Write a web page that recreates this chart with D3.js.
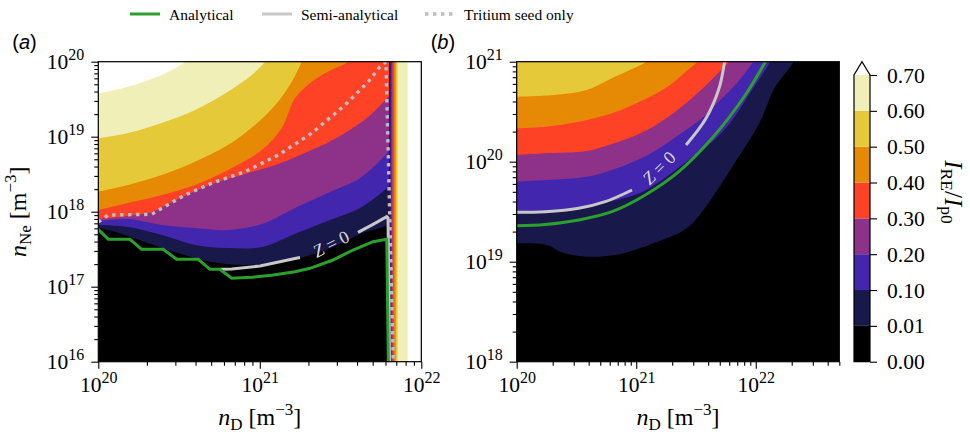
<!DOCTYPE html>
<html><head><meta charset="utf-8">
<script src="https://cdn.jsdelivr.net/npm/d3@7"></script>
<style>
body{margin:0;background:#fff;}
svg{display:block;}
.sf{font-family:"Liberation Serif","DejaVu Serif",serif;}
</style></head><body>
<svg id="chart" width="970" height="434"></svg>
<script>
// ================= DATA =================
const levels = [0.00, 0.01, 0.10, 0.20, 0.30, 0.40, 0.50, 0.60, 0.70];
const levelLabels = ["0.00","0.01","0.10","0.20","0.30","0.40","0.50","0.60","0.70"];
const seriesNames = ["Analytical", "Semi-analytical", "Tritium seed only"];

// Panel (a): boundaries [log10 nD, log10 nNe]; region above each curve has I_RE/I_p0 >= level
const a_b001 = [[20,17.783],[20.085,17.743],[20.289,17.596],[20.493,17.449],[20.704,17.329],[20.908,17.289],[21.113,17.329],[21.249,17.383],[21.453,17.529],[21.639,17.716],[21.763,17.796],[21.800,17.836]];
const a_b010 = [[20,17.823],[20.184,17.796],[20.395,17.689],[20.599,17.556],[20.803,17.516],[21.014,17.529],[21.230,17.716],[21.435,17.889],[21.621,18.049],[21.788,18.316],[21.800,18.343]];
const a_b020 = [[20,17.876],[20.184,17.903],[20.395,17.823],[20.599,17.783],[20.803,17.756],[21.014,17.836],[21.230,18.063],[21.435,18.263],[21.621,18.449],[21.788,18.783],[21.800,18.823]];
const a_b030 = [[20,17.903],[20.184,17.943],[20.331,17.996],[20.496,18.169],[20.702,18.369],[20.908,18.503],[21.114,18.636],[21.248,18.756],[21.453,18.956],[21.663,19.249],[21.800,19.543]];
const a_b040 = [[20,18.023],[20.184,18.116],[20.393,18.223],[20.599,18.356],[20.803,18.556],[21.012,18.823],[21.136,19.116],[21.218,19.512],[21.321,19.733],[21.422,19.867],[21.546,19.996],[21.571,20.05]];
const a_b050 = [[20,18.267],[20.184,18.356],[20.393,18.489],[20.599,18.667],[20.803,18.889],[20.970,19.156],[21.113,19.467],[21.198,19.733],[21.259,19.996],[21.268,20.05]];
const a_b060 = [[20,18.979],[20.184,19.049],[20.393,19.183],[20.599,19.356],[20.803,19.6],[20.950,19.823],[21.032,19.996],[21.051,20.05]];
const a_b070 = [[20,19.579],[20.184,19.667],[20.393,19.823],[20.537,19.992],[20.568,20.05]];
const a_stripStart = [21.800, 21.808, 21.815, 21.822, 21.832, 21.842, 21.853, 21.915];

const a_analytical = [[20,17.765],[20.062,17.632],[20.196,17.632],[20.268,17.499],[20.402,17.499],[20.485,17.365],[20.619,17.365],[20.691,17.232],[20.753,17.232],[20.826,17.112],[20.950,17.125],[21.073,17.152],[21.218,17.2],[21.311,17.245],[21.453,17.356],[21.577,17.489],[21.701,17.6],[21.786,17.632],[21.796,16.0]];
const a_semi = [[20.753,17.232],[20.826,17.236],[21.001,17.276],[21.218,17.376],[21.249,17.389], null, [21.608,17.724],[21.701,17.831],[21.786,17.933],[21.794,17.916],[21.803,16.0]];
const a_tritium = [[20,17.863],[20.062,17.956],[20.331,17.965],[20.393,18.045],[20.537,18.223],[20.702,18.379],[20.908,18.533],[21.115,18.756],[21.321,19.045],[21.528,19.423],[21.672,19.733],[21.744,19.933],[21.781,19.996],[21.827,16.0]];

// Panel (b)
const b_b001 = [[20,19.184],[20.195,19.177],[20.279,19.157],[20.362,19.1],[20.586,19.05],[20.864,19.077],[21.143,19.184],[21.423,19.334],[21.562,19.517],[21.813,19.967],[22.036,20.4],[22.147,20.717],[22.204,20.817],[22.315,20.994],[22.329,21.037]];
const b_b010 = [[20,19.507],[20.237,19.507],[20.519,19.537],[20.797,19.607],[21.032,19.687],[21.216,19.817],[21.492,20.067],[21.634,20.197],[21.785,20.387],[21.969,20.717],[22.12,20.997],[22.137,21.037]];
const b_b020 = [[20,19.8],[20.239,19.817],[20.586,19.85],[20.797,19.917],[21.099,20.067],[21.356,20.267],[21.562,20.447],[21.634,20.534],[21.841,20.784],[21.977,20.997],[21.994,21.037]];
const b_b030 = [[20,20.067],[20.239,20.084],[20.586,20.107],[20.797,20.177],[21.076,20.307],[21.356,20.527],[21.578,20.757],[21.718,20.927],[21.776,20.997],[21.793,21.037]];
const b_b040 = [[20,20.334],[20.239,20.35],[20.519,20.4],[20.797,20.484],[21.076,20.627],[21.283,20.767],[21.411,20.897],[21.509,20.997],[21.534,21.037]];
const b_b050 = [[20,20.65],[20.306,20.667],[20.586,20.717],[20.797,20.834],[21.004,20.95],[21.088,21.0],[21.116,21.037]];

const b_analytical = [[20,19.36],[20.239,19.372],[20.519,19.417],[20.797,19.5],[21.076,19.667],[21.356,19.9],[21.634,20.234],[21.913,20.667],[22.080,20.997],[22.10,21.04]];
const b_semi = [[20,19.494],[20.239,19.5],[20.519,19.534],[20.741,19.6],[20.965,19.717], null, [21.417,20.167],[21.584,20.434],[21.693,20.734],[21.739,20.997],[21.745,21.04]];

// ================= STYLE =================
const bandColors = ["#000000","#18184b","#4226ad","#8e3189","#fe4226","#e68904","#e5c938","#f0efb8","#ffffff"];
const GREEN = "#2ca02c", GRAY = "#c8c8c8", DOT = "#bcbcc4";
const TF = 21.5, SF = 16;

const svg = d3.select("#chart");
svg.append("rect").attr("width",970).attr("height",434).attr("fill","#fff");

function minorTicks(dom){
  const out=[];
  for(let e=Math.floor(Math.log10(dom[0])); e<=Math.ceil(Math.log10(dom[1])); e++){
    for(let m=2;m<=9;m++){ const v=m*Math.pow(10,e); if(v>=dom[0]*0.999 && v<=dom[1]*1.001) out.push(v); }
  }
  return out;
}
function majorTicks(dom){
  const out=[];
  for(let e=Math.ceil(Math.log10(dom[0])-1e-9); e<=Math.floor(Math.log10(dom[1])+1e-9); e++) out.push(Math.pow(10,e));
  return out;
}
function powLabel(t, d){
  t.text(null).attr("class","sf");
  t.append("tspan").text("10");
  t.append("tspan").attr("dy",-9.5).attr("font-size",SF).text(Math.round(Math.log10(d)));
}
const unitHTML = (v, sub, sf)=>`<tspan font-style="italic">${v}</tspan><tspan font-size="${sf}" dy="4.5">${sub}</tspan><tspan dy="-4.5"> [m</tspan><tspan font-size="${sf}" dy="-10">−3</tspan><tspan dy="10">]</tspan>`;

function drawPanel(p){
  const g = svg.append("g");
  const x = d3.scaleLog().domain(p.xDom).range([p.x0,p.x1]);
  const y = d3.scaleLog().domain(p.yDom).range([p.y1,p.y0]);
  const X = v=>x(Math.pow(10,v)), Y = v=>y(Math.pow(10,v));
  const cid = "clip"+p.id;
  g.append("clipPath").attr("id",cid).append("rect")
    .attr("x",p.x0).attr("y",p.y0).attr("width",p.x1-p.x0).attr("height",p.y1-p.y0);
  const area = g.append("g").attr("clip-path",`url(#${cid})`);
  area.append("rect").attr("x",p.x0).attr("y",p.y0).attr("width",p.x1-p.x0).attr("height",p.y1-p.y0).attr("fill",bandColors[0]);
  const topL = Math.log10(p.yDom[1])+0.3;
  const smooth = d3.line().curve(d3.curveCatmullRom.alpha(0.5));
  p.bounds.forEach((b,i)=>{
    if(b){
      const pts=b.map(d=>[X(d[0]),Y(d[1])]);
      const ext=[[X(b[b.length-1][0]),Y(topL)],[X(b[0][0])-2,Y(topL)],[X(b[0][0])-2,Y(b[0][1])]];
      const dstr = smooth(pts) + ext.map(q=>`L${q[0]},${q[1]}`).join("") + "Z";
      area.append("path").attr("d",dstr).attr("fill",bandColors[i+1]);
    }
    if(p.strips){
      const sx=X(p.strips[i]);
      area.append("rect").attr("x",sx).attr("y",p.y0).attr("width",p.x1-sx+2).attr("height",p.y1-p.y0).attr("fill",bandColors[i+1]);
    }
  });
  const line = d3.line().defined(d=>d!==null).x(d=>X(d[0])).y(d=>Y(d[1]));
  const sline = d3.line().defined(d=>d!==null).x(d=>X(d[0])).y(d=>Y(d[1])).curve(p.smoothLines ? d3.curveCatmullRom.alpha(0.5) : d3.curveLinear);
  area.append("path").datum(p.semi).attr("d",sline).attr("fill","none").attr("stroke",GRAY).attr("stroke-width",3);
  area.append("path").datum(p.analytical).attr("d",sline).attr("fill","none").attr("stroke",GREEN).attr("stroke-width",3);
  if(p.tritium) area.append("path").datum(p.tritium).attr("d",line).attr("fill","none").attr("stroke",DOT).attr("stroke-width",3.4).attr("stroke-dasharray","3.4,4.6");
  area.append("text").attr("class","sf").attr("transform",`translate(${p.zLab[0]},${p.zLab[1]}) rotate(${p.zLab[2]})`)
    .attr("text-anchor","middle").attr("dominant-baseline","central")
    .attr("font-size",18).attr("fill","#dcdcdc")
    .html('<tspan font-style="italic">Z</tspan> = 0');

  function styleAxis(ga){ ga.select(".domain").remove(); ga.selectAll(".tick line").attr("stroke","#000").attr("stroke-width",1.1); }
  const gxm = g.append("g").attr("transform",`translate(0,${p.y1})`).call(d3.axisBottom(x).tickValues(minorTicks(p.xDom)).tickSize(4).tickFormat(()=>""));
  styleAxis(gxm);
  const gx = g.append("g").attr("transform",`translate(0,${p.y1})`).call(d3.axisBottom(x).tickValues(majorTicks(p.xDom)).tickSize(7).tickFormat(()=>""));
  styleAxis(gx);
  gx.attr("font-family",null).attr("font-size",TF);
  gx.selectAll(".tick text").attr("y",30.5).attr("dy",null).attr("fill","#000").each(function(d){powLabel(d3.select(this),d);});
  const gym = g.append("g").attr("transform",`translate(${p.x0},0)`).call(d3.axisLeft(y).tickValues(minorTicks(p.yDom)).tickSize(4).tickFormat(()=>""));
  styleAxis(gym);
  const gy = g.append("g").attr("transform",`translate(${p.x0},0)`).call(d3.axisLeft(y).tickValues(majorTicks(p.yDom)).tickSize(7).tickFormat(()=>""));
  styleAxis(gy);
  gy.attr("font-family",null).attr("font-size",TF);
  gy.selectAll(".tick text").attr("x",-14).attr("dy",7).attr("fill","#000").each(function(d){powLabel(d3.select(this),d);});
  g.append("rect").attr("x",p.x0).attr("y",p.y0).attr("width",p.x1-p.x0).attr("height",p.y1-p.y0)
    .attr("fill","none").attr("stroke","#000").attr("stroke-width",1.2);
  g.append("text").attr("class","sf").attr("x",(p.x0+p.x1)/2).attr("y",425).attr("text-anchor","middle")
    .attr("font-size",24).attr("fill","#000").html(unitHTML("n","D",17));
  g.append("text").attr("x",p.x0-86).attr("y",49).style("font-family","'Liberation Sans', Arial, sans-serif").attr("font-size",20).attr("fill","#000")
    .html(`(<tspan font-style="italic">${p.id}</tspan>)`);
}

drawPanel({id:"a", xDom:[1e20,1e22], yDom:[1e16,1e20], x0:98.3, x1:421.3, y0:61.7, y1:361.7,
  bounds:[a_b001,a_b010,a_b020,a_b030,a_b040,a_b050,a_b060,a_b070], strips:a_stripStart,
  analytical:a_analytical, semi:a_semi, tritium:a_tritium, zLab:[331,244,-27], smoothLines:false});
drawPanel({id:"b", xDom:[1e20,5e22], yDom:[1e18,1e21], x0:516.7, x1:839.3, y0:61.7, y1:361.7,
  bounds:[b_b001,b_b010,b_b020,b_b030,b_b040,b_b050,null,null], strips:null,
  analytical:b_analytical, semi:b_semi, tritium:null, zLab:[659,168,-45], smoothLines:true});

svg.append("text").attr("class","sf").attr("transform","translate(26,211.7) rotate(-90)").attr("text-anchor","middle")
  .attr("font-size",24).attr("fill","#000").html(unitHTML("n","Ne",17));

// ================= COLORBAR =================
const cbx0=854, cbx1=870, cbTop=75, cbBot=361.7, cbTip=61.7;
const cb = d3.scaleLinear().domain([0, levels.length-1]).range([cbBot, cbTop]);
const gcb = svg.append("g");
for(let i=0;i<levels.length-1;i++){
  gcb.append("rect").attr("x",cbx0).attr("y",cb(i+1)).attr("width",cbx1-cbx0).attr("height",cb(i)-cb(i+1)).attr("fill",bandColors[i]);
}
gcb.append("path").attr("d",`M${cbx0},${cbTop}L${(cbx0+cbx1)/2},${cbTip}L${cbx1},${cbTop}Z`).attr("fill",bandColors[8]);
gcb.append("path").attr("d",`M${cbx0},${cbBot}V${cbTop}L${(cbx0+cbx1)/2},${cbTip}L${cbx1},${cbTop}V${cbBot}Z`).attr("fill","none").attr("stroke","#000").attr("stroke-width",1.2);
const gca = gcb.append("g").attr("transform",`translate(${cbx1},0)`)
  .call(d3.axisRight(cb).tickValues(d3.range(levels.length)).tickSize(7).tickPadding(10).tickFormat(i=>levelLabels[i]));
gca.select(".domain").remove();
gca.selectAll(".tick line").attr("stroke","#000").attr("stroke-width",1.1);
gca.attr("font-family",null).attr("font-size",TF);
gca.selectAll(".tick text").attr("class","sf").attr("dy",7).attr("fill","#000");
svg.append("text").attr("class","sf").attr("transform","translate(945,192) rotate(90)").attr("text-anchor","middle")
  .attr("font-size",25).attr("fill","#000")
  .html(`<tspan font-style="italic">I</tspan><tspan font-size="17.5" dy="4.5">RE</tspan><tspan dy="-4.5">/</tspan><tspan font-style="italic">I</tspan><tspan font-size="17.5" dy="4.5">p0</tspan>`);

// ================= LEGEND =================
const legend = [
  {name:seriesNames[0], x:130, color:GREEN, dash:null, w:3},
  {name:seriesNames[1], x:262, color:GRAY, dash:null, w:3},
  {name:seriesNames[2], x:425, color:DOT, dash:"3.4,4.6", w:3.4}
];
const gl = svg.append("g");
legend.forEach(l=>{
  gl.append("line").attr("x1",l.x).attr("x2",l.x+30).attr("y1",14).attr("y2",14)
    .attr("stroke",l.color).attr("stroke-width",l.w).attr("stroke-dasharray",l.dash);
  gl.append("text").attr("class","sf").attr("x",l.x+39).attr("y",20).attr("font-size",15.5).attr("fill","#000").text(l.name);
});
</script>
</body></html>
